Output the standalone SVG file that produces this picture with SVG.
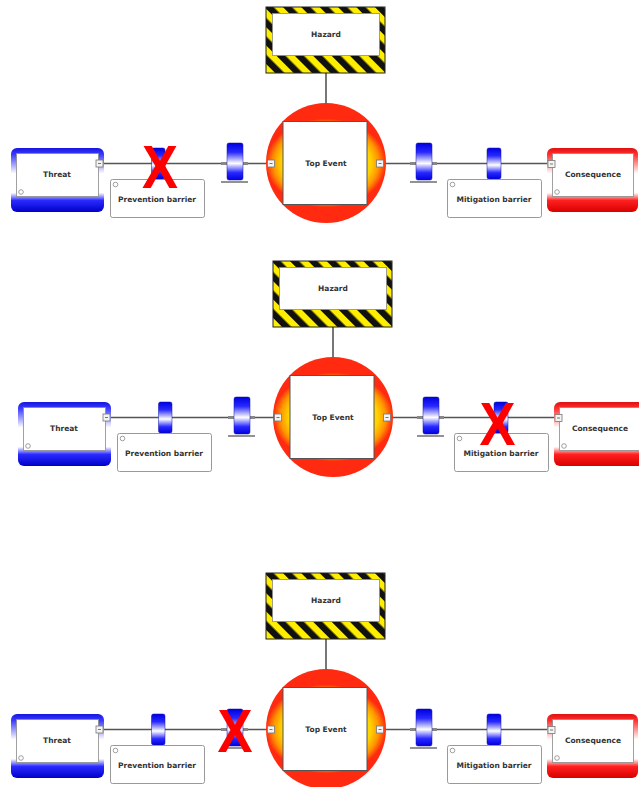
<svg xmlns="http://www.w3.org/2000/svg" width="639" height="787" viewBox="0 0 639 787">
  <defs>
    <style>
      .lbl { font-family: "DejaVu Sans", Verdana, sans-serif; font-weight: bold; font-size: 7.5px; fill: #333; text-anchor: middle; dominant-baseline: central; }
      .cross { font-family: "Liberation Sans", Arial, sans-serif; font-weight: bold; font-size: 61px; fill: #ff0000; text-anchor: middle; }
      .wire { stroke: #555; stroke-width: 1.6; fill: none; }
      .inner { fill: #fff; stroke: #8a8a8a; stroke-width: 0.8; }
      .port { fill: #f4f4f4; stroke: #777; stroke-width: 0.8; }
      .dash { stroke: #555; stroke-width: 0.8; }
      .icon { fill: #fff; stroke: #888; stroke-width: 0.8; }
      .note { fill: #fff; stroke: #999; stroke-width: 1; }
      .bar { fill: url(#barGrad); stroke: #1010a0; stroke-width: 0.5; }
      .base { stroke: #777; stroke-width: 1.6; }
      .stub { stroke: #888; stroke-width: 3; }
    </style>
    <linearGradient id="threatGrad" x1="0" y1="0" x2="0" y2="1">
      <stop offset="0" stop-color="#1515e0"/>
      <stop offset="0.1" stop-color="#3a3aff"/>
      <stop offset="0.4" stop-color="#ffffff"/>
      <stop offset="0.7" stop-color="#ffffff"/>
      <stop offset="0.82" stop-color="#2a2aff"/>
      <stop offset="1" stop-color="#0000c8"/>
    </linearGradient>
    <linearGradient id="consGrad" x1="0" y1="0" x2="0" y2="1">
      <stop offset="0" stop-color="#e01010"/>
      <stop offset="0.1" stop-color="#ff3030"/>
      <stop offset="0.4" stop-color="#ffffff"/>
      <stop offset="0.7" stop-color="#ffffff"/>
      <stop offset="0.82" stop-color="#ff2020"/>
      <stop offset="1" stop-color="#d80000"/>
    </linearGradient>
    <linearGradient id="barGrad" x1="0" y1="0" x2="0" y2="1">
      <stop offset="0" stop-color="#0000e0"/>
      <stop offset="0.25" stop-color="#2828ff"/>
      <stop offset="0.55" stop-color="#ffffff"/>
      <stop offset="0.8" stop-color="#2828ff"/>
      <stop offset="1" stop-color="#0000e0"/>
    </linearGradient>
    <radialGradient id="eventGrad" gradientUnits="userSpaceOnUse" cx="0" cy="0" r="60" gradientTransform="translate(326 163) scale(1 0.74)">
      <stop offset="0" stop-color="#fff200"/>
      <stop offset="0.74" stop-color="#ffd400"/>
      <stop offset="0.88" stop-color="#ff9200"/>
      <stop offset="1" stop-color="#ff2a10"/>
    </radialGradient>
    <pattern id="stripes" patternUnits="userSpaceOnUse" width="13" height="13" patternTransform="rotate(-45)">
      <rect width="13" height="13" fill="#ffee00"/>
      <rect width="6.5" height="13" fill="#111"/>
    </pattern>
  </defs>

  <rect width="639" height="787" fill="#fff"/>

  <!-- Bow-tie 1: first prevention barrier failed -->
  <g id="bowtie-1">
    <g id="d1-connectors">
      <line class="wire" x1="326" y1="73" x2="326" y2="103"/>
      <line class="wire" x1="103" y1="163.5" x2="268" y2="163.5"/>
      <line class="wire" x1="383" y1="163.5" x2="548" y2="163.5"/>
      <line class="stub" x1="221" y1="163.5" x2="227" y2="163.5"/>
      <line class="stub" x1="243" y1="163.5" x2="248" y2="163.5"/>
      <line class="stub" x1="410" y1="163.5" x2="416" y2="163.5"/>
      <line class="stub" x1="432" y1="163.5" x2="437" y2="163.5"/>
    </g>
    <g id="d1-hazard">
      <rect x="266" y="7" width="119" height="66" fill="url(#stripes)" stroke="#222" stroke-width="1"/>
      <rect class="inner" x="272.5" y="13.5" width="107" height="42"/>
      <text class="lbl" x="326" y="34">Hazard</text>
    </g>
    <g id="d1-top-event">
      <circle cx="326" cy="163" r="60" fill="url(#eventGrad)"/>
      <rect x="283" y="121.5" width="84" height="83" fill="#fff" stroke="#555" stroke-width="1"/>
      <text class="lbl" x="326" y="163">Top Event</text>
      <rect class="port" x="267.5" y="160" width="7" height="7"/>
      <line class="dash" x1="269.5" y1="163.5" x2="272.5" y2="163.5"/>
      <rect class="port" x="376.5" y="160" width="7" height="7"/>
      <line class="dash" x1="378.5" y1="163.5" x2="381.5" y2="163.5"/>
    </g>
    <g id="d1-threat">
      <rect x="11" y="148" width="93" height="64" rx="6" fill="url(#threatGrad)"/>
      <rect class="inner" x="16.5" y="153.5" width="82" height="43"/>
      <text class="lbl" x="57" y="174">Threat</text>
      <circle class="icon" cx="21" cy="192" r="2.3"/>
      <rect class="port" x="96" y="160" width="7" height="7"/>
      <line class="dash" x1="98" y1="163.5" x2="101" y2="163.5"/>
    </g>
    <g id="d1-prevention-1">
      <rect class="bar" x="151.5" y="148" width="13.5" height="31" rx="2"/>
    </g>
    <g id="d1-prevention-2">
      <rect class="bar" x="227" y="143" width="16" height="37" rx="2"/>
      <line class="base" x1="221" y1="182" x2="248" y2="182"/>
    </g>
    <g id="d1-prevention-label">
      <rect class="note" x="110.5" y="179.5" width="94" height="38" rx="2"/>
      <circle class="icon" cx="115.5" cy="184.5" r="2.3"/>
      <text class="lbl" x="157" y="199.5">Prevention barrier</text>
    </g>
    <g id="d1-mitigation-1">
      <rect class="bar" x="416" y="143" width="16" height="37" rx="2"/>
      <line class="base" x1="410" y1="182" x2="437" y2="182"/>
    </g>
    <g id="d1-mitigation-2">
      <rect class="bar" x="487" y="148" width="14" height="31" rx="2"/>
    </g>
    <g id="d1-mitigation-label">
      <rect class="note" x="447.5" y="179.5" width="94" height="38" rx="2"/>
      <circle class="icon" cx="452.5" cy="184.5" r="2.3"/>
      <text class="lbl" x="494" y="199.5">Mitigation barrier</text>
    </g>
    <g id="d1-consequence">
      <rect x="547" y="148" width="91" height="64" rx="6" fill="url(#consGrad)"/>
      <rect class="inner" x="552.5" y="153.5" width="81" height="43"/>
      <text class="lbl" x="593" y="174">Consequence</text>
      <circle class="icon" cx="557" cy="192" r="2.3"/>
      <rect class="port" x="548" y="160.5" width="7" height="7"/>
      <line class="dash" x1="550" y1="164" x2="553" y2="164"/>
    </g>
    <text class="cross" x="160" y="188" textLength="36" lengthAdjust="spacingAndGlyphs">X</text>
  </g>

  <!-- Bow-tie 2: second mitigation barrier failed -->
  <g id="bowtie-2" transform="translate(7 254)">
    <g id="d2-connectors">
      <line class="wire" x1="326" y1="73" x2="326" y2="103"/>
      <line class="wire" x1="103" y1="163.5" x2="268" y2="163.5"/>
      <line class="wire" x1="383" y1="163.5" x2="548" y2="163.5"/>
      <line class="stub" x1="221" y1="163.5" x2="227" y2="163.5"/>
      <line class="stub" x1="243" y1="163.5" x2="248" y2="163.5"/>
      <line class="stub" x1="410" y1="163.5" x2="416" y2="163.5"/>
      <line class="stub" x1="432" y1="163.5" x2="437" y2="163.5"/>
    </g>
    <g id="d2-hazard">
      <rect x="266" y="7" width="119" height="66" fill="url(#stripes)" stroke="#222" stroke-width="1"/>
      <rect class="inner" x="272.5" y="13.5" width="107" height="42"/>
      <text class="lbl" x="326" y="34">Hazard</text>
    </g>
    <g id="d2-top-event">
      <circle cx="326" cy="163" r="60" fill="url(#eventGrad)"/>
      <rect x="283" y="121.5" width="84" height="83" fill="#fff" stroke="#555" stroke-width="1"/>
      <text class="lbl" x="326" y="163">Top Event</text>
      <rect class="port" x="267.5" y="160" width="7" height="7"/>
      <line class="dash" x1="269.5" y1="163.5" x2="272.5" y2="163.5"/>
      <rect class="port" x="376.5" y="160" width="7" height="7"/>
      <line class="dash" x1="378.5" y1="163.5" x2="381.5" y2="163.5"/>
    </g>
    <g id="d2-threat">
      <rect x="11" y="148" width="93" height="64" rx="6" fill="url(#threatGrad)"/>
      <rect class="inner" x="16.5" y="153.5" width="82" height="43"/>
      <text class="lbl" x="57" y="174">Threat</text>
      <circle class="icon" cx="21" cy="192" r="2.3"/>
      <rect class="port" x="96" y="160" width="7" height="7"/>
      <line class="dash" x1="98" y1="163.5" x2="101" y2="163.5"/>
    </g>
    <g id="d2-prevention-1">
      <rect class="bar" x="151.5" y="148" width="13.5" height="31" rx="2"/>
    </g>
    <g id="d2-prevention-2">
      <rect class="bar" x="227" y="143" width="16" height="37" rx="2"/>
      <line class="base" x1="221" y1="182" x2="248" y2="182"/>
    </g>
    <g id="d2-prevention-label">
      <rect class="note" x="110.5" y="179.5" width="94" height="38" rx="2"/>
      <circle class="icon" cx="115.5" cy="184.5" r="2.3"/>
      <text class="lbl" x="157" y="199.5">Prevention barrier</text>
    </g>
    <g id="d2-mitigation-1">
      <rect class="bar" x="416" y="143" width="16" height="37" rx="2"/>
      <line class="base" x1="410" y1="182" x2="437" y2="182"/>
    </g>
    <g id="d2-mitigation-2">
      <rect class="bar" x="487" y="148" width="14" height="31" rx="2"/>
    </g>
    <g id="d2-mitigation-label">
      <rect class="note" x="447.5" y="179.5" width="94" height="38" rx="2"/>
      <circle class="icon" cx="452.5" cy="184.5" r="2.3"/>
      <text class="lbl" x="494" y="199.5">Mitigation barrier</text>
    </g>
    <g id="d2-consequence">
      <rect x="547" y="148" width="91" height="64" rx="6" fill="url(#consGrad)"/>
      <rect class="inner" x="552.5" y="153.5" width="81" height="43"/>
      <text class="lbl" x="593" y="174">Consequence</text>
      <circle class="icon" cx="557" cy="192" r="2.3"/>
      <rect class="port" x="548" y="160.5" width="7" height="7"/>
      <line class="dash" x1="550" y1="164" x2="553" y2="164"/>
    </g>
    <text class="cross" x="490.5" y="191" textLength="36" lengthAdjust="spacingAndGlyphs">X</text>
  </g>

  <!-- Bow-tie 3: second prevention barrier failed -->
  <g id="bowtie-3" transform="translate(0 566)">
    <g id="d3-connectors">
      <line class="wire" x1="326" y1="73" x2="326" y2="103"/>
      <line class="wire" x1="103" y1="163.5" x2="268" y2="163.5"/>
      <line class="wire" x1="383" y1="163.5" x2="548" y2="163.5"/>
      <line class="stub" x1="221" y1="163.5" x2="227" y2="163.5"/>
      <line class="stub" x1="243" y1="163.5" x2="248" y2="163.5"/>
      <line class="stub" x1="410" y1="163.5" x2="416" y2="163.5"/>
      <line class="stub" x1="432" y1="163.5" x2="437" y2="163.5"/>
    </g>
    <g id="d3-hazard">
      <rect x="266" y="7" width="119" height="66" fill="url(#stripes)" stroke="#222" stroke-width="1"/>
      <rect class="inner" x="272.5" y="13.5" width="107" height="42"/>
      <text class="lbl" x="326" y="34">Hazard</text>
    </g>
    <g id="d3-top-event">
      <circle cx="326" cy="163" r="60" fill="url(#eventGrad)"/>
      <rect x="283" y="121.5" width="84" height="83" fill="#fff" stroke="#555" stroke-width="1"/>
      <text class="lbl" x="326" y="163">Top Event</text>
      <rect class="port" x="267.5" y="160" width="7" height="7"/>
      <line class="dash" x1="269.5" y1="163.5" x2="272.5" y2="163.5"/>
      <rect class="port" x="376.5" y="160" width="7" height="7"/>
      <line class="dash" x1="378.5" y1="163.5" x2="381.5" y2="163.5"/>
    </g>
    <g id="d3-threat">
      <rect x="11" y="148" width="93" height="64" rx="6" fill="url(#threatGrad)"/>
      <rect class="inner" x="16.5" y="153.5" width="82" height="43"/>
      <text class="lbl" x="57" y="174">Threat</text>
      <circle class="icon" cx="21" cy="192" r="2.3"/>
      <rect class="port" x="96" y="160" width="7" height="7"/>
      <line class="dash" x1="98" y1="163.5" x2="101" y2="163.5"/>
    </g>
    <g id="d3-prevention-1">
      <rect class="bar" x="151.5" y="148" width="13.5" height="31" rx="2"/>
    </g>
    <g id="d3-prevention-2">
      <rect class="bar" x="227" y="143" width="16" height="37" rx="2"/>
      <line class="base" x1="221" y1="182" x2="248" y2="182"/>
    </g>
    <g id="d3-prevention-label">
      <rect class="note" x="110.5" y="179.5" width="94" height="38" rx="2"/>
      <circle class="icon" cx="115.5" cy="184.5" r="2.3"/>
      <text class="lbl" x="157" y="199.5">Prevention barrier</text>
    </g>
    <g id="d3-mitigation-1">
      <rect class="bar" x="416" y="143" width="16" height="37" rx="2"/>
      <line class="base" x1="410" y1="182" x2="437" y2="182"/>
    </g>
    <g id="d3-mitigation-2">
      <rect class="bar" x="487" y="148" width="14" height="31" rx="2"/>
    </g>
    <g id="d3-mitigation-label">
      <rect class="note" x="447.5" y="179.5" width="94" height="38" rx="2"/>
      <circle class="icon" cx="452.5" cy="184.5" r="2.3"/>
      <text class="lbl" x="494" y="199.5">Mitigation barrier</text>
    </g>
    <g id="d3-consequence">
      <rect x="547" y="148" width="91" height="64" rx="6" fill="url(#consGrad)"/>
      <rect class="inner" x="552.5" y="153.5" width="81" height="43"/>
      <text class="lbl" x="593" y="174">Consequence</text>
      <circle class="icon" cx="557" cy="192" r="2.3"/>
      <rect class="port" x="548" y="160.5" width="7" height="7"/>
      <line class="dash" x1="550" y1="164" x2="553" y2="164"/>
    </g>
    <text class="cross" x="235" y="186" textLength="35" lengthAdjust="spacingAndGlyphs">X</text>
  </g>
</svg>
